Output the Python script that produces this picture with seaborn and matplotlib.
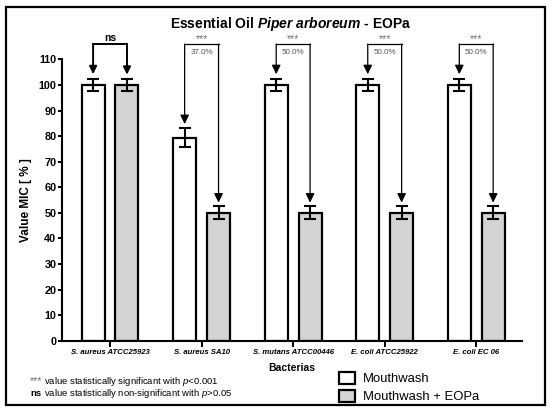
import matplotlib
matplotlib.use('Agg')
import numpy as np
import pandas as pd
import matplotlib.pyplot as plt
from matplotlib.patches import Patch, Rectangle
import seaborn as sns

# dane
bacteria = ['S. aureus ATCC25923', 'S. aureus SA10', 'S. mutans ATCC00446',
            'E. coli ATCC25922', 'E. coli EC 06']
groups = ['Mouthwash', 'Mouthwash + EOPa']
mouthwash = [100, 79.4, 100, 100, 100]
mouthwash_err = [2.5, 3.6, 2.5, 2.5, 2.5]
mouthwash_eopa = [100, 50, 50, 50, 50]
mouthwash_eopa_err = [2.5, 2.5, 2.5, 2.5, 2.5]
signif = ['ns', '***', '***', '***', '***']
reduction = ['', '37.0%', '50.0%', '50.0%', '50.0%']
colors = ['white', '#d3d3d3']

df = pd.DataFrame({
    'Bacterias': bacteria * 2,
    'value': mouthwash + mouthwash_eopa,
    'group': [groups[0]] * 5 + [groups[1]] * 5,
})

sns.set_theme(style='white')
plt.rcParams['font.family'] = ['Liberation Sans', 'DejaVu Sans']
plt.rcParams['text.color'] = 'black'
plt.rcParams['axes.labelcolor'] = 'black'
plt.rcParams['mathtext.fontset'] = 'custom'
plt.rcParams['mathtext.rm'] = 'Liberation Sans'
plt.rcParams['mathtext.bf'] = 'Liberation Sans:bold:italic'
plt.rcParams['mathtext.it'] = 'Liberation Sans:italic'

fig = plt.figure(figsize=(5.5, 4.12), dpi=100)
ax = fig.add_axes([0.1127, 0.173, 0.8364, 0.745])

sns.barplot(data=df, x='Bacterias', y='value', hue='group', palette=colors,
            edgecolor='black', linewidth=1.6, width=0.74, gap=0.32,
            errorbar=None, legend=False, ax=ax)

xs_w = [b.get_x() + b.get_width() / 2 for b in ax.containers[0]]
xs_g = [b.get_x() + b.get_width() / 2 for b in ax.containers[1]]

ax.errorbar(xs_w, mouthwash, yerr=mouthwash_err, fmt='none', ecolor='black',
            elinewidth=1.5, capsize=4.3, capthick=1.5, zorder=5)
ax.errorbar(xs_g, mouthwash_eopa, yerr=mouthwash_eopa_err, fmt='none', ecolor='black',
            elinewidth=1.5, capsize=4.3, capthick=1.5, zorder=5)

# klamry z strzalkami
top = 116
for i in range(len(bacteria)):
    xw, xg = xs_w[i], xs_g[i]
    is_ns = signif[i] == 'ns'
    lw = 1.4 if is_ns else 0.9
    ms = 10 if is_ns else 12
    ax.plot([xw, xg], [top, top], color='black', lw=lw, clip_on=False,
            solid_capstyle='projecting')
    tips = [(xw, mouthwash[i] + mouthwash_err[i] + 1.7),
            (xg, mouthwash_eopa[i] + mouthwash_eopa_err[i] + 1.5)]
    for x, tip in tips:
        ax.annotate('', xy=(x, tip), xytext=(x, top), annotation_clip=False,
                    arrowprops=dict(arrowstyle='-|>,head_length=0.45,head_width=0.22',
                                    color='black', lw=lw, shrinkA=0, shrinkB=0,
                                    mutation_scale=ms))
    xc = (xw + xg) / 2
    if is_ns:
        ax.text(xc, top + 1.2, 'ns', ha='center', va='baseline', fontsize=7.5,
                fontweight='bold', clip_on=False)
    else:
        ax.text(xc, top + 0.1, signif[i], ha='center', va='bottom', fontsize=7.8,
                color='#707070', clip_on=False)
        ax.text(xc, 112.5, reduction[i], ha='center', va='center', fontsize=5.8,
                color='#555555')

ax.set_xlim(-0.525, 4.5)
ax.set_ylim(0, 120)
ax.set_yticks(np.arange(0, 111, 10))
sns.despine(ax=ax)
ax.spines['left'].set_bounds(0, 110)
for s in ['left', 'bottom']:
    ax.spines[s].set_linewidth(1.5)
    ax.spines[s].set_color('black')

ax.tick_params(axis='y', length=3, width=1.4, pad=1, labelsize=7.8, left=True, colors='black')
ax.tick_params(axis='x', length=4, width=1.4, pad=2, labelsize=5.6, bottom=True, colors='black')
for lab in ax.get_yticklabels():
    lab.set_fontweight('bold')
for lab in ax.get_xticklabels():
    lab.set_fontweight('bold')
    lab.set_fontstyle('italic')

ax.set_ylabel('Value MIC [ % ]', fontweight='bold', fontsize=8.5)
ax.yaxis.set_label_coords(-0.065, 55 / 120)
ax.set_xlabel('Bacterias', fontweight='bold', fontsize=7.5, labelpad=5)

fig.text(0.529, 1 - 24 / 412, r'Essential Oil $\mathbf{Piper\ arboreum}$ - EOPa',
         ha='center', va='center', fontweight='bold', fontsize=10)

# przypisy
fig.text(30 / 550, 1 - 381 / 412, '***', color='#707070', fontsize=7.8, va='center')
fig.text(44 / 550, 1 - 381 / 412, r'value statistically significant with $\mathit{p}$<0.001',
         fontsize=6.8, va='center')
fig.text(30 / 550, 1 - 393 / 412, 'ns', fontweight='bold', fontsize=6.8, va='center')
fig.text(44 / 550, 1 - 393 / 412, r'value statistically non-significant with $\mathit{p}$>0.05',
         fontsize=6.8, va='center')

handles = [Patch(facecolor=c, edgecolor='black', linewidth=1.6) for c in colors]
fig.legend(handles, groups, loc='upper left', bbox_to_anchor=(339 / 550, 1 - 372 / 412),
           frameon=False, fontsize=9.4, handlelength=1.25, handleheight=1.0,
           handletextpad=0.6, labelspacing=0.35, borderpad=0, borderaxespad=0)

fig.add_artist(Rectangle((6 / 550, 7 / 412), 539 / 550, 398 / 412, transform=fig.transFigure,
                         fill=False, edgecolor='black', lw=1.6))

fig.savefig('out.png', dpi=100)
